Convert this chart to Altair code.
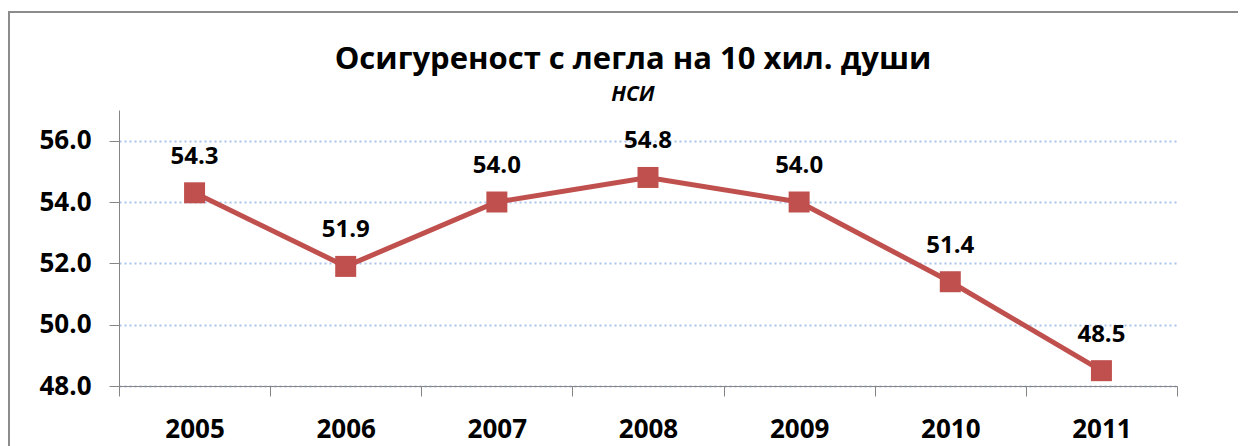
import altair as alt
import pandas as pd

years = ["2005", "2006", "2007", "2008", "2009", "2010", "2011"]
values = [54.3, 51.9, 54.0, 54.8, 54.0, 51.4, 48.5]
y_ticks = [48, 50, 52, 54, 56]
title_text = "Осигуреност с легла на 10 хил. души"
subtitle_text = "НСИ"

df = pd.DataFrame({"year": years, "value": values})

FONT = "Open Sans"
RED = "#C0504D"

x = alt.X("year:O", title=None,
          scale=alt.Scale(type="band", paddingInner=0, paddingOuter=0),
          axis=alt.Axis(tickBand="extent", labelAngle=0, tickSize=10,
                        labelPadding=20, labelFontSize=26, labelFontWeight="bold",
                        labelColor="#000000", domainColor="#868686", tickColor="#868686",
                        labelFont=FONT))
y = alt.Y("value:Q", title=None,
          scale=alt.Scale(domain=[48, 57], nice=False, zero=False),
          axis=alt.Axis(values=y_ticks, format=".1f", tickSize=10, labelPadding=18,
                        labelFontSize=26, labelFontWeight="bold", labelColor="#000000",
                        domainColor="#868686", tickColor="#868686", labelFont=FONT,
                        grid=True, gridColor="#a9c2ea", gridDash=[2, 3], gridWidth=2))

base = alt.Chart(df)
line = base.mark_line(color=RED, strokeWidth=5).encode(x=x, y=y)
pts = base.mark_square(color=RED, size=441, opacity=1).encode(x=x, y=y)
labels = base.mark_text(dy=-29, baseline="alphabetic", fontSize=24, fontWeight="bold",
                        font=FONT, color="#000000").encode(
    x=x, y=y, text=alt.Text("value:Q", format=".1f"))

frame_df = pd.DataFrame({"k": [0]})
frame_top = alt.Chart(frame_df).mark_rule(color="#8c8c8c", strokeWidth=2).encode(
    x=alt.value(-111), x2=alt.value(1130), y=alt.value(-98))
frame_left = alt.Chart(frame_df).mark_rule(color="#8c8c8c", strokeWidth=2).encode(
    x=alt.value(-110), y=alt.value(-98), y2=alt.value(340))
title_mark = alt.Chart(frame_df).mark_text(
    font=FONT, fontSize=31, fontWeight="bold", color="#000000",
    align="center", baseline="alphabetic").encode(
    x=alt.value(514), y=alt.value(-41), text=alt.value(title_text))
subtitle_mark = alt.Chart(frame_df).mark_text(
    font=FONT, fontSize=21, fontWeight="bold", fontStyle="italic", color="#000000",
    align="center", baseline="alphabetic").encode(
    x=alt.value(514), y=alt.value(-9), text=alt.value(subtitle_text))

chart = alt.layer(frame_top, frame_left, line, pts, labels, title_mark, subtitle_mark).properties(
    width=1058, height=276,
    autosize=alt.AutoSizeParams(type="none"),
    padding={"left": 111, "top": 102, "right": 61, "bottom": 60},
).configure(background="#ffffff").configure_view(stroke=None)

chart.save("out.html", embed_options={"renderer": "svg", "actions": False})
